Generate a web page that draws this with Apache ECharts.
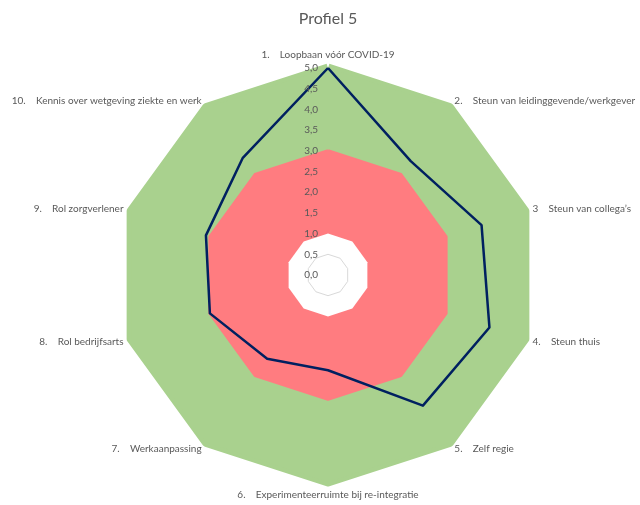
<!DOCTYPE html>
<html>
<head>
<meta charset="utf-8">
<script src="https://cdn.jsdelivr.net/npm/echarts@6/dist/echarts.min.js"></script>
<style>
  html, body { margin: 0; padding: 0; background: #fff; }
  #main { width: 640px; height: 505px; }
</style>
</head>
<body>
<div id="main"></div>
<script>
// categories in the order of the reference (1 at the top, going clockwise)
const categories = [
  '1.    Loopbaan vóór COVID-19',
  '2.    Steun van leidinggevende/werkgever',
  '3    Steun van collega’s',
  '4.    Steun thuis',
  '5.    Zelf regie',
  '6.    Experimenteerruimte bij re-integratie',
  '7.    Werkaanpassing',
  '8.    Rol bedrijfsarts',
  '9.    Rol zorgverlener',
  '10.    Kennis over wetgeving ziekte en werk'
];
const profileValues = [5.0, 3.4, 3.9, 4.1, 3.9, 2.3, 2.5, 3.0, 3.1, 3.5];
const greenBand = [5, 5, 5, 5, 5, 5, 5, 5, 5, 5];
const redBand = [3, 3, 3, 3, 3, 3, 3, 3, 3, 3];
const whiteBand = [1, 1, 1, 1, 1, 1, 1, 1, 1, 1];
const axisMax = 5;

const textColor = '#595959';
const font = 'Lato';

// echarts lays indicators out counter-clockwise, so flip to get clockwise
const order = [0, 9, 8, 7, 6, 5, 4, 3, 2, 1];
const reorder = arr => order.map(i => arr[i]);

const center = [328, 275];
const radius = 207;

// only the 0,5 ring shows (in the white hole), the rest sits under the fills
const ringColors = ['rgba(0,0,0,0)', '#d9d9d9', 'rgba(0,0,0,0)', 'rgba(0,0,0,0)',
  'rgba(0,0,0,0)', 'rgba(0,0,0,0)', 'rgba(0,0,0,0)', 'rgba(0,0,0,0)',
  'rgba(0,0,0,0)', 'rgba(0,0,0,0)', 'rgba(0,0,0,0)'];

const myChart = echarts.init(document.getElementById('main'));

function band(values, color, name, border) {
  return {
    value: reorder(values),
    name: name,
    symbol: 'none',
    lineStyle: { color: color, width: border, join: 'round', opacity: border ? 1 : 0 },
    areaStyle: { color: color, opacity: 1 }
  };
}

const option = {
  animation: false,
  title: {
    text: 'Profiel 5',
    left: 323,
    top: 6,
    textAlign: 'center',
    textStyle: { color: textColor, fontSize: 16, fontWeight: 'normal', fontFamily: font }
  },
  radar: [
    {
      center: center,
      radius: radius,
      shape: 'polygon',
      splitNumber: 10,
      indicator: reorder(categories).map(name => ({ name: name, min: 0, max: axisMax })),
      axisName: { color: textColor, fontSize: 10, fontFamily: font },
      nameGap: 8,
      axisLine: { show: false },
      splitLine: { show: false },
      splitArea: { show: false }
    },
    {
      // overlay radar for the tick labels on the first axis, above the fills
      center: center,
      radius: radius,
      shape: 'polygon',
      splitNumber: 10,
      z: 10,
      indicator: reorder(categories).map((name, i) => ({
        name: '', min: 0, max: axisMax,
        axisLabel: { show: i === 0 }
      })),
      axisName: { show: false },
      axisLine: { show: false },
      splitLine: { show: true, lineStyle: { color: ringColors, width: 1 } },
      splitArea: { show: false },
      axisLabel: {
        show: true,
        color: textColor,
        fontSize: 10,
        fontFamily: font,
        margin: 10,
        formatter: v => v.toFixed(1).replace('.', ',')
      }
    }
  ],
  series: [
    {
      type: 'radar',
      radarIndex: 0,
      silent: true,
      data: [
        band(greenBand, '#A9D18E', 'groen', 9),
        band(redBand, '#FF7C80', 'rood', 3),
        band(whiteBand, '#FFFFFF', 'wit', 0)
      ]
    },
    {
      type: 'radar',
      radarIndex: 0,
      z: 3,
      data: [{
        value: reorder(profileValues),
        name: 'Profiel 5',
        symbol: 'none',
        lineStyle: { color: '#002060', width: 2.5 }
      }]
    }
  ]
};

myChart.setOption(option);
</script>
</body>
</html>
